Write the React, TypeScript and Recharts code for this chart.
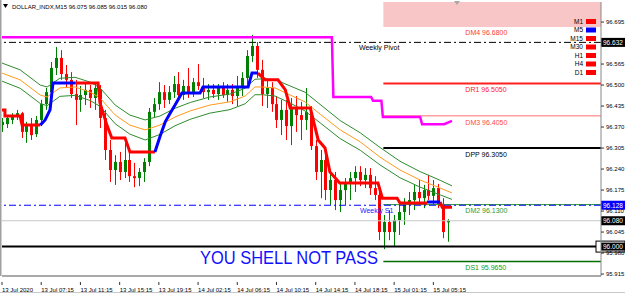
import React from 'react';
import {
  ComposedChart,
  Bar,
  Line,
  XAxis,
  YAxis,
  ReferenceLine,
  ReferenceArea
} from 'recharts';

const FONT = '"Liberation Sans", Arial, sans-serif';

// each slot = two M15 bars (30 min), 8 slots = 4 hours
const timeTicks = [0, 8, 16, 24, 32, 40, 48, 56, 64, 72, 80, 88];
const timeLabels = [
  '13 Jul 2020', '13 Jul 07:15', '13 Jul 11:15', '13 Jul 15:15', '13 Jul 19:15', '14 Jul 02:15',
  '14 Jul 06:15', '14 Jul 10:15', '14 Jul 14:15', '14 Jul 18:15', '15 Jul 01:15', '15 Jul 05:15'
];
const priceTicks = [96.695, 96.565, 96.5, 96.435, 96.37, 96.305, 96.24, 96.175, 96.11, 96.045, 95.98, 95.915];

const opens = [
  96.376, 96.379, 96.392, 96.404, 96.413, 96.355, 96.373, 96.348, 96.392, 96.441,
  96.478, 96.553, 96.584, 96.534, 96.516, 96.472, 96.454, 96.469, 96.485, 96.46,
  96.485, 96.398, 96.299, 96.237, 96.262, 96.231, 96.268, 96.218, 96.212, 96.231,
  96.262, 96.417, 96.441, 96.478, 96.454, 96.478, 96.503, 96.469, 96.497, 96.475,
  96.509, 96.497, 96.478, 96.485, 96.472, 96.491, 96.469, 96.485, 96.466, 96.497,
  96.522, 96.59, 96.621, 96.547, 96.472, 96.491, 96.441, 96.392, 96.423, 96.373,
  96.429, 96.407, 96.392, 96.417, 96.311, 96.231, 96.268, 96.175, 96.206, 96.144,
  96.175, 96.194, 96.212, 96.231, 96.206, 96.222, 96.181, 96.16, 96.045, 96.076,
  96.045, 96.082, 96.107, 96.129, 96.144, 96.169, 96.15, 96.175, 96.157, 96.181,
  96.132, 96.075
];
const highs = [
  96.398, 96.404, 96.413, 96.423, 96.417, 96.386, 96.398, 96.404, 96.454, 96.491,
  96.571, 96.618, 96.608, 96.562, 96.54, 96.516, 96.497, 96.506, 96.5, 96.503,
  96.5, 96.423, 96.33, 96.283, 96.293, 96.321, 96.299, 96.259, 96.243, 96.274,
  96.429, 96.46, 96.509, 96.5, 96.497, 96.528, 96.54, 96.516, 96.553, 96.522,
  96.565, 96.522, 96.503, 96.503, 96.503, 96.509, 96.503, 96.503, 96.528, 96.54,
  96.608, 96.655, 96.633, 96.578, 96.516, 96.509, 96.466, 96.454, 96.454, 96.46,
  96.466, 96.448, 96.491, 96.435, 96.33, 96.299, 96.283, 96.231, 96.231, 96.2,
  96.212, 96.231, 96.249, 96.249, 96.243, 96.243, 96.218, 96.191, 96.098, 96.113,
  96.098, 96.129, 96.15, 96.169, 96.191, 96.206, 96.191, 96.222, 96.206, 96.194,
  96.15, 96.085
];
const lows = [
  96.355, 96.367, 96.379, 96.392, 96.336, 96.321, 96.33, 96.339, 96.373, 96.423,
  96.46, 96.531, 96.516, 96.491, 96.46, 96.376, 96.417, 96.438, 96.429, 96.423,
  96.367, 96.268, 96.2, 96.191, 96.206, 96.212, 96.2, 96.184, 96.187, 96.2,
  96.249, 96.398, 96.423, 96.429, 96.441, 96.46, 96.454, 96.454, 96.46, 96.463,
  96.485, 96.46, 96.454, 96.46, 96.454, 96.46, 96.448, 96.441, 96.435, 96.466,
  96.503, 96.571, 96.522, 96.435, 96.429, 96.417, 96.367, 96.345, 96.33, 96.314,
  96.355, 96.33, 96.361, 96.299, 96.206, 96.15, 96.144, 96.129, 96.113, 96.107,
  96.129, 96.144, 96.169, 96.187, 96.181, 96.16, 96.144, 96.02, 95.992, 96.02,
  95.999, 96.036, 96.067, 96.098, 96.113, 96.132, 96.119, 96.144, 96.129, 96.119,
  96.026, 96.015
];
const closes = [
  96.386, 96.398, 96.407, 96.413, 96.355, 96.373, 96.345, 96.392, 96.441, 96.478,
  96.553, 96.584, 96.534, 96.516, 96.472, 96.454, 96.469, 96.485, 96.46, 96.491,
  96.398, 96.299, 96.237, 96.262, 96.231, 96.268, 96.218, 96.212, 96.231, 96.262,
  96.417, 96.441, 96.478, 96.454, 96.478, 96.503, 96.469, 96.497, 96.475, 96.509,
  96.497, 96.478, 96.485, 96.472, 96.491, 96.469, 96.485, 96.466, 96.497, 96.522,
  96.59, 96.621, 96.547, 96.472, 96.491, 96.441, 96.392, 96.423, 96.373, 96.429,
  96.407, 96.392, 96.417, 96.311, 96.231, 96.268, 96.175, 96.206, 96.144, 96.175,
  96.194, 96.212, 96.231, 96.206, 96.222, 96.181, 96.16, 96.045, 96.076, 96.045,
  96.082, 96.107, 96.129, 96.144, 96.169, 96.15, 96.175, 96.157, 96.181, 96.132,
  96.045, 96.08
];

// envelope bands, sampled along the slot axis
const envX = [0, 3.7, 7.8, 9.2, 11.8, 14.9, 18, 20, 23.1, 26.1, 29.2, 32.2, 35.3, 38.4, 42.4, 46.5,
  49.6, 51.6, 53.1, 55.7, 58.8, 61.8, 64.9, 69, 73.1, 77.1, 81.2, 85.3, 89.4, 91.8];
const envMid = [96.537, 96.516, 96.469, 96.463, 96.491, 96.494, 96.478, 96.46, 96.407, 96.376, 96.361,
  96.376, 96.401, 96.42, 96.438, 96.448, 96.466, 96.494, 96.494, 96.491, 96.469, 96.448, 96.41, 96.361,
  96.324, 96.277, 96.237, 96.206, 96.181, 96.166];
const envUp = [96.568, 96.547, 96.5, 96.494, 96.521, 96.524, 96.509, 96.491, 96.438, 96.407, 96.392,
  96.404, 96.428, 96.446, 96.463, 96.472, 96.49, 96.518, 96.519, 96.517, 96.497, 96.478, 96.44, 96.39,
  96.352, 96.307, 96.264, 96.232, 96.205, 96.188];
const envLow = [96.512, 96.49, 96.443, 96.436, 96.465, 96.468, 96.452, 96.434, 96.38, 96.348, 96.33,
  96.347, 96.374, 96.394, 96.413, 96.424, 96.442, 96.47, 96.47, 96.466, 96.444, 96.42, 96.383, 96.334,
  96.298, 96.253, 96.213, 96.184, 96.16, 96.146];

// trend stop line: [slot, price]; null price = gap
const trendRed: [number, number | null][] = [
  [0, 96.423], [0.6, 96.423], [0.6, 96.404], [3.7, 96.404], [4.1, 96.376], [7.8, 96.376], [8, null],
  [14.9, 96.506], [19.6, 96.506], [20, 96.444], [21.4, 96.376], [22.4, 96.336], [25.1, 96.336],
  [26.1, 96.293], [31.2, 96.293], [31.5, null],
  [52.2, 96.537], [53.7, 96.516], [56.3, 96.516], [57.8, 96.485], [58.8, 96.429], [62.9, 96.429],
  [64.5, 96.33], [65.9, 96.305], [66.9, 96.231], [68.9, 96.197], [76.7, 96.197], [77.6, 96.15],
  [80.6, 96.15], [81.2, 96.135], [86.7, 96.135], [87, null],
  [89.4, 96.138], [89.8, 96.122], [91.8, 96.122]
];
const trendBlue: [number, number | null][] = [
  [7.8, 96.376], [8.8, 96.392], [9.8, 96.423], [10.4, 96.506], [14.9, 96.506], [15, null],
  [31.2, 96.293], [32.2, 96.339], [33.3, 96.386], [34.3, 96.413], [35.3, 96.438], [36.7, 96.475],
  [40.4, 96.475], [41, 96.494], [50.2, 96.494], [51, 96.537], [52.2, 96.537], [52.5, null],
  [86.7, 96.138], [89.4, 96.138]
];
const weeklyLine: [number, number][] = [
  [0, 96.648], [67.3, 96.648], [67.6, 96.463], [75.3, 96.463], [75.7, 96.451], [77.4, 96.451],
  [77.7, 96.401], [85.3, 96.401], [85.7, 96.379], [90.2, 96.379], [91.8, 96.389]
];

const LEVEL_START = 77.8;
const X_MAX = 122.2;

const candles = opens.map((o, i) => ({
  x: i, o, h: highs[i], l: lows[i], c: closes[i], range: [lows[i], highs[i]]
}));
const toPts = (arr: [number, number | null][]) => arr.map(([x, y]) => ({ x, y }));
const envMidPts = envX.map((x, i) => ({ x, y: envMid[i] }));
const envUpPts = envX.map((x, i) => ({ x, y: envUp[i] }));
const envLowPts = envX.map((x, i) => ({ x, y: envLow[i] }));

const Candle = (props: any) => {
  const { x, y, width, height, payload } = props;
  if (x == null || !payload) return null;
  const top = Math.min(y, y + height);
  const hgt = Math.abs(height);
  const { o, h, l, c } = payload;
  const k = hgt / (h - l || 1);
  const py = (p: number) => top + (h - p) * k;
  const color = c >= o ? '#008000' : '#ff0000';
  const cx = Math.round(x + width / 2) + 0.5;
  const b1 = py(Math.max(o, c));
  const b2 = py(Math.min(o, c));
  return (
    <g>
      <line x1={cx} x2={cx} y1={top} y2={top + hgt} stroke={color} strokeWidth={1} />
      <rect x={cx - 1.5} y={b1} width={3} height={Math.max(1, b2 - b1)} fill={color} />
    </g>
  );
};

const levelLabel = (text: string, color: string, dx: number, dy = 8) => (props: any) => {
  const vb = props.viewBox;
  return (
    <text x={vb.x + dx} y={vb.y + dy} fill={color} fontSize={7} fontFamily={FONT}>
      {text}
    </text>
  );
};

const tag = (vb: any, text: string, bg: string) => (
  <g>
    <rect x={vb.x + vb.width} y={vb.y - 4.5} width={24} height={9} fill={bg} />
    <text x={vb.x + vb.width + 2} y={vb.y + 2.5} fill="#fff" fontSize={6.5} fontFamily={FONT}>
      {text}
    </text>
  </g>
);

const TimeTick = (props: any) => {
  const { x, y, index } = props;
  return (
    <g>
      <line x1={x} x2={x} y1={y - 2} y2={y + 1} stroke="#333" />
      <text x={x} y={y + 8} fontSize={6} fontFamily={FONT} fill="#000">
        {timeLabels[index]}
      </text>
    </g>
  );
};

export default function App() {
  return (
    <div style={{ position: 'fixed', left: 0, top: 0, width: 625, height: 294, background: '#fff' }}>
      <ComposedChart
        width={625}
        height={294}
        data={candles}
        margin={{ top: 2, right: 0, bottom: 0, left: 2 }}
      >
        <XAxis
          dataKey="x"
          type="number"
          domain={[0, X_MAX]}
          allowDataOverflow
          ticks={timeTicks}
          interval={0}
          height={18}
          tickLine={false}
          axisLine={{ stroke: '#555' }}
          tick={<TimeTick />}
        />
        <YAxis
          orientation="right"
          type="number"
          domain={[95.909, 96.757]}
          allowDataOverflow
          ticks={priceTicks}
          interval={0}
          width={24}
          tickSize={3}
          tickMargin={2}
          axisLine={{ stroke: '#888' }}
          tickLine={{ stroke: '#333' }}
          tick={{ fontSize: 6, fill: '#000', fontFamily: FONT }}
          tickFormatter={(v: number) => v.toFixed(3)}
        />

        <ReferenceArea
          x1={LEVEL_START}
          x2={X_MAX}
          y1={96.68}
          y2={96.757}
          fill="#f8c6c6"
          fillOpacity={1}
          stroke="none"
          ifOverflow="hidden"
          label={(p: any) => (
            <text x={p.viewBox.x + 82} y={p.viewBox.y + p.viewBox.height + 8} fill="#ff3838" fontSize={7} fontFamily={FONT}>
              DM4 96.6800
            </text>
          )}
        />
        <ReferenceLine y={96.08} stroke="#c8c8c8" strokeWidth={1}
          label={(p: any) => tag(p.viewBox, '96.080', '#000')} />
        <ReferenceLine
          segment={[{ x: LEVEL_START, y: 96.505 }, { x: X_MAX, y: 96.505 }]}
          stroke="#ff2020" strokeWidth={2}
          label={levelLabel('DR1 96.5050', '#ff2020', 82, 9)}
        />
        <ReferenceLine
          segment={[{ x: LEVEL_START, y: 96.405 }, { x: X_MAX, y: 96.405 }]}
          stroke="#ffa0a0" strokeWidth={1.5}
          label={levelLabel('DM3 96.4050', '#ff4848', 82, 9)}
        />
        <ReferenceLine
          segment={[{ x: LEVEL_START, y: 96.305 }, { x: X_MAX, y: 96.305 }]}
          stroke="#000" strokeWidth={2}
          label={levelLabel('DPP 96.3050', '#000', 82, 9)}
        />
        <ReferenceLine
          segment={[{ x: LEVEL_START, y: 96.13 }, { x: X_MAX, y: 96.13 }]}
          stroke="#2e9a2e" strokeWidth={1}
          label={levelLabel('DM2 96.1300', '#2e9a2e', 82, 8)}
        />
        <ReferenceLine
          segment={[{ x: LEVEL_START, y: 95.954 }, { x: X_MAX, y: 95.954 }]}
          stroke="#007000" strokeWidth={1.5}
          label={levelLabel('DS1 95.9650', '#10a010', 82, 9)}
        />
        <ReferenceLine
          y={96.632}
          stroke="#000"
          strokeDasharray="7 3 2 3"
          label={(p: any) => (
            <g>
              <text x={p.viewBox.x + 357} y={p.viewBox.y + 8} fill="#000" fontSize={7} fontFamily={FONT}>
                Weekly Pivot
              </text>
              {tag(p.viewBox, '96.632', '#000')}
            </g>
          )}
        />
        <ReferenceLine
          y={96.128}
          stroke="#0000ff"
          strokeDasharray="7 3 2 3"
          label={(p: any) => (
            <g>
              <text x={p.viewBox.x + 358} y={p.viewBox.y + 8} fill="#2020ff" fontSize={7} fontFamily={FONT}>
                Weekly S1
              </text>
              {tag(p.viewBox, '96.128', '#0000ff')}
            </g>
          )}
        />
        <ReferenceLine
          y={96.0}
          stroke="#000"
          strokeWidth={2}
          label={(p: any) => {
            const vb = p.viewBox;
            const rx = vb.x + vb.width;
            return (
              <g>
                <text x={200} y={vb.y + 17} fill="#1010ff" fontSize={18} fontFamily={FONT}
                  textLength={178} lengthAdjust="spacingAndGlyphs">
                  YOU SHELL NOT PASS
                </text>
                <rect x={rx - 5} y={vb.y - 5.5} width={29} height={11} fill="#fff" stroke="#000" />
                <rect x={rx} y={vb.y - 4} width={24} height={8} fill="#000" />
                <text x={rx + 2} y={vb.y + 2.5} fill="#fff" fontSize={6.5} fontFamily={FONT}>
                  96.000
                </text>
              </g>
            );
          }}
        />

        <Line data={envUpPts} dataKey="y" stroke="#2e8b2e" strokeWidth={1} dot={false} activeDot={false} isAnimationActive={false} />
        <Line data={envMidPts} dataKey="y" stroke="#ff9a1a" strokeWidth={1} dot={false} activeDot={false} isAnimationActive={false} />
        <Line data={envLowPts} dataKey="y" stroke="#2e8b2e" strokeWidth={1} dot={false} activeDot={false} isAnimationActive={false} />

        <Bar dataKey="range" barSize={3} shape={<Candle />} isAnimationActive={false} />

        <Line data={toPts(trendRed)} dataKey="y" stroke="#ff0000" strokeWidth={3} dot={false} activeDot={false} isAnimationActive={false} />
        <Line data={toPts(trendBlue)} dataKey="y" stroke="#0000ff" strokeWidth={3} dot={false} activeDot={false} isAnimationActive={false} />
        <Line data={toPts(weeklyLine)} dataKey="y" stroke="#ff00ff" strokeWidth={2.5} dot={false} activeDot={false} isAnimationActive={false} />
      </ComposedChart>

      <svg width={625} height={294} style={{ position: 'absolute', left: 0, top: 0, pointerEvents: 'none' }}>
        <rect x={0} y={0} width={1.5} height={276} fill="#a0a0a0" />
        <polygon points="3,4 8,4 5.5,8" fill="#000" />
        <text x={12} y={9} fontSize={6} fontFamily={FONT} fill="#000">
          DOLLAR_INDX,M15  96.075 96.085 96.015 96.080
        </text>
        <polygon points="454,1 460,1 457,5" fill="#a8a8a8" />
        {['M1', 'M5', 'M15', 'M30', 'H1', 'H4', 'D1'].map((t, i) => (
          <g key={t}>
            <text x={583} y={23.5 + i * 8.5} textAnchor="end" fontSize={6.5} fontFamily={FONT} fill="#000">{t}</text>
            <rect x={586} y={19 + i * 8.5} width={10} height={5} fill={t === 'M5' ? '#0000ff' : '#ff0000'} />
          </g>
        ))}
        <line x1={0} x2={625} y1={292.5} y2={292.5} stroke="#c8c8c8" />
      </svg>
    </div>
  );
}
